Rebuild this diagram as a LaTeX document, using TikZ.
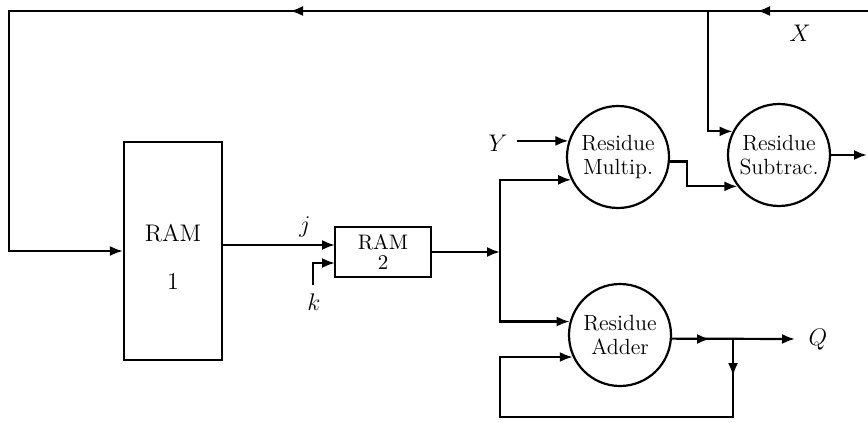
\documentclass[tikz,border=0pt]{standalone}
\usetikzlibrary{arrows.meta,calc}
\begin{document}
\begin{tikzpicture}[x=0.5pt,y=-0.5pt,
  arr/.style={line width=1.1pt,-{Latex[length=6.5pt,width=5pt]}},
  box/.style={draw,line width=1.1pt,inner sep=0pt},
  circ/.style={draw,circle,line width=1.1pt,minimum size=51pt,inner sep=0pt,align=center,font=\fontsize{11}{12}\selectfont},
  lbl/.style={font=\fontsize{12.5}{14}\selectfont,inner sep=0pt},
  txt/.style={font=\fontsize{12}{13}\selectfont,inner sep=0pt}]
\useasboundingbox (0,0) rectangle (868,423);
% blocks
\node[box,minimum width=49pt,minimum height=109pt] (ram1) at (173,251) {};
\node[txt] (ram1a) at (173,233) {RAM};
\node[txt] (ram1b) at (173,282) {1};
\node[box,minimum width=48pt,minimum height=25pt,align=center,font=\fontsize{10.5}{11}\selectfont] (ram2) at (383,252) {RAM\\[-1pt]2};
\node[circ] (mult) at (618,157) {Residue\\Multip.};
\node[circ] (sub) at (779,155) {Residue\\Subtrac.};
\node[circ] (add) at (620,335) {Residue\\Adder};
% labels
\node[lbl] (Xl) at (800,33) {$X$};
\node[lbl] (Yl) at (498,143) {$Y$};
\node[lbl] (jl) at (305,227) {$j$};
\node[lbl] (kl) at (314,302) {$k$};
\node[lbl] (Ql) at (818,340) {$Q$};
% coordinates
\coordinate (tr) at (868,11);
\coordinate (ta1) at (757,11);
\coordinate (br) at (708,11);
\coordinate (ta2) at (290,11);
\coordinate (tl) at (9,11);
\coordinate (sout) at (867,155);
\coordinate (jin) at (335,245);
\coordinate (kin) at (335,263);
\coordinate (ks) at (313,285);
\coordinate (jn) at (500,252);
\coordinate (ys) at (517,142);
\coordinate (qa) at (710,339);
\coordinate (qj) at (733,339);
\coordinate (qt) at (795,339);
\coordinate (qd) at (733,376);
\coordinate (fb1) at (733,417);
\coordinate (fb2) at (500,417);
% connectors (continuous wires)
\draw[arr] (tr) -- (tl) |- (ram1.west);
\draw[arr] (br) |- (sub.153);
\draw[arr] (mult.-5) -- ++(17,0) |- (sub.217);
\draw[arr] (sub.east) -- (sout);
\draw[arr] (ram1.east |- jin) -- (jin);
\draw[arr] (ks) |- (kin);
\draw[arr] (ram2.east) -- (jn);
\draw[arr] (jn) |- (mult.206);
\draw[arr] (jn) |- (add.165);
\draw[arr] (mult.162 -| ys) -- (mult.162);
\draw[arr] (add.-4) -- (qt);
\draw[arr] (qj) -- (fb1) -- (fb2) |- (add.205);
% arrowheads along the wires
\draw[arr] ($(ta1)+(14,0)$) -- (ta1);
\draw[arr] ($(ta2)+(14,0)$) -- (ta2);
\draw[arr] ($(qa)+(-14,0)$) -- (qa);
\draw[arr] ($(qd)+(0,-14)$) -- (qd);
\end{tikzpicture}
\end{document}
